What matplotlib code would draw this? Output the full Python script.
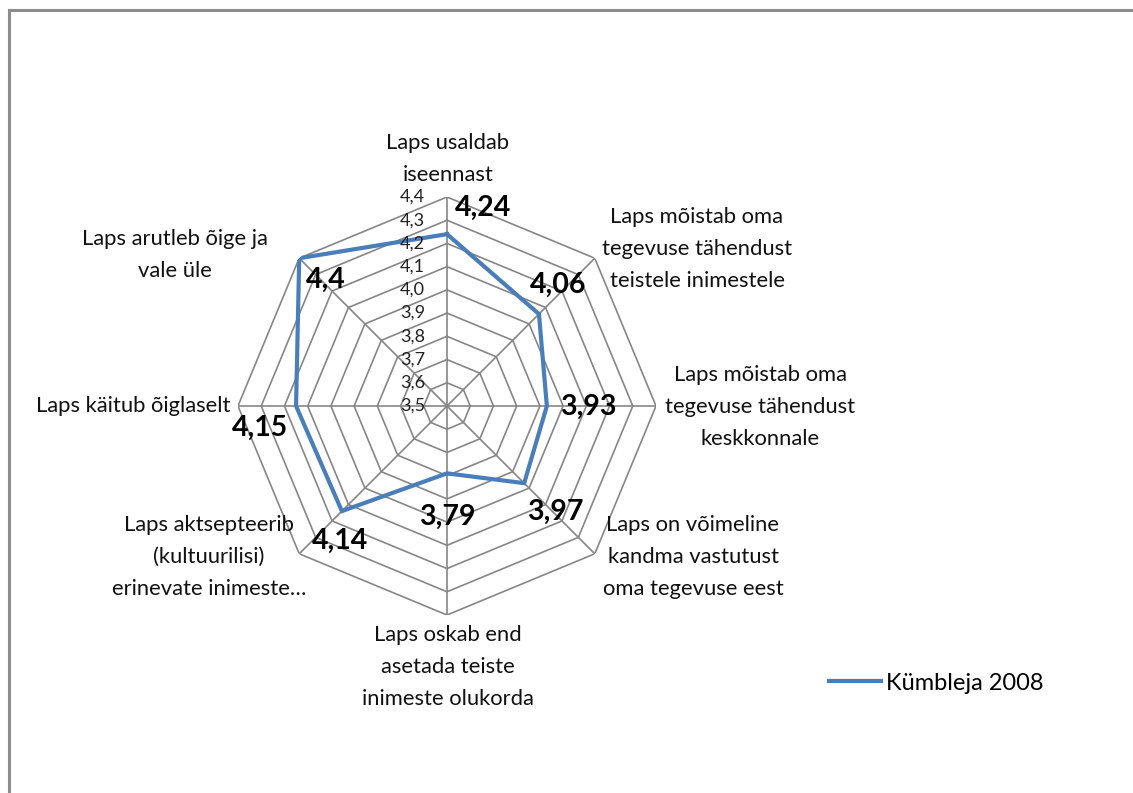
import numpy as np
import matplotlib.pyplot as plt
from matplotlib.lines import Line2D

# data, clockwise from the top
categories = [
    "Laps usaldab\niseennast",
    "Laps mõistab oma\ntegevuse tähendust\nteistele inimestele",
    "Laps mõistab oma\ntegevuse tähendust\nkeskkonnale",
    "Laps on võimeline\nkandma vastutust\noma tegevuse eest",
    "Laps oskab end\nasetada teiste\ninimeste olukorda",
    "Laps aktsepteerib\n(kultuurilisi)\nerinevate inimeste…",
    "Laps käitub õiglaselt",
    "Laps arutleb õige ja\nvale üle",
]
values = [4.24, 4.06, 3.93, 3.97, 3.79, 4.14, 4.15, 4.4]
value_labels = ["4,24", "4,06", "3,93", "3,97", "3,79", "4,14", "4,15", "4,4"]
rings = [3.5, 3.6, 3.7, 3.8, 3.9, 4.0, 4.1, 4.2, 4.3, 4.4]
ring_labels = ["3,5", "3,6", "3,7", "3,8", "3,9", "4,0", "4,1", "4,2", "4,3", "4,4"]
series_name = "Kümbleja 2008"

plt.rcParams['font.family'] = ['Lato', 'DejaVu Sans']

W, H = 1133, 793
fig = plt.figure(figsize=(W / 100, H / 100), dpi=100)


def fx(px):
    return px / W


def fy(py):
    return 1 - py / H


# plot area: centre (447, 406), radius 209 px
cx, cy, R = 447, 406, 209
ax = fig.add_axes([fx(cx - R), fy(cy + R), 2 * R / W, 2 * R / H], projection='polar')
ax.set_theta_offset(np.pi / 2)
ax.set_theta_direction(-1)
ax.set_ylim(3.5, 4.4)
ax.grid(False)
ax.spines['polar'].set_visible(False)
ax.set_xticks([])
ax.set_yticks([])
ax.patch.set_alpha(0)

n = len(values)
theta = np.linspace(0, 2 * np.pi, n, endpoint=False)
theta_closed = np.append(theta, theta[0])

grid_col = '#868686'
for lvl in rings[1:]:
    ax.plot(theta_closed, [lvl] * (n + 1), color=grid_col, lw=1.2, zorder=1)
for t in theta:
    ax.plot([t, t], [rings[0], rings[-1]], color=grid_col, lw=1.2, zorder=1)

ax.plot(theta_closed, values + values[:1], color='#4A7EBB', lw=3.0, zorder=3,
        solid_joinstyle='miter')

for lvl, lab in zip(rings, ring_labels):
    ax.annotate(lab, xy=(0, lvl), xytext=(-22, 0), textcoords='offset pixels',
                ha='right', va='center', fontsize=13, color='#222222',
                annotation_clip=False)

# category labels (pixel positions)
cat_pos = [(448, 159), (697, 249), (760, 407), (693, 557),
           (448, 667), (209, 557), (133, 406), (175, 255)]
for txt, (px, py) in zip(categories, cat_pos):
    fig.text(fx(px), fy(py), txt, ha='center', va='center', fontsize=15.8,
             linespacing=1.72, color='#111111')

# data labels
val_pos = [(483, 208), (558, 285), (588, 407), (555, 512),
           (447, 517), (340, 541), (260, 428), (326, 280)]
for txt, (px, py) in zip(value_labels, val_pos):
    fig.text(fx(px), fy(py), txt, ha='center', va='center', fontsize=20.5,
             fontweight='bold', color='black')

# legend
fig.legend([Line2D([], [], color='#4A7EBB', lw=3.0)], [series_name],
           loc='center left', bbox_to_anchor=(fx(808), fy(683)), frameon=False,
           fontsize=17, handlelength=2.2, handletextpad=0.2)

# chart border (top and left only visible in the crop)
fig.add_artist(Line2D([fx(9), fx(9)], [fy(10), 0], color='#8c8c8c', lw=2.2))
fig.add_artist(Line2D([fx(9), 1], [fy(10), fy(10)], color='#8c8c8c', lw=2.2))

fig.savefig('out.png', dpi=100)
